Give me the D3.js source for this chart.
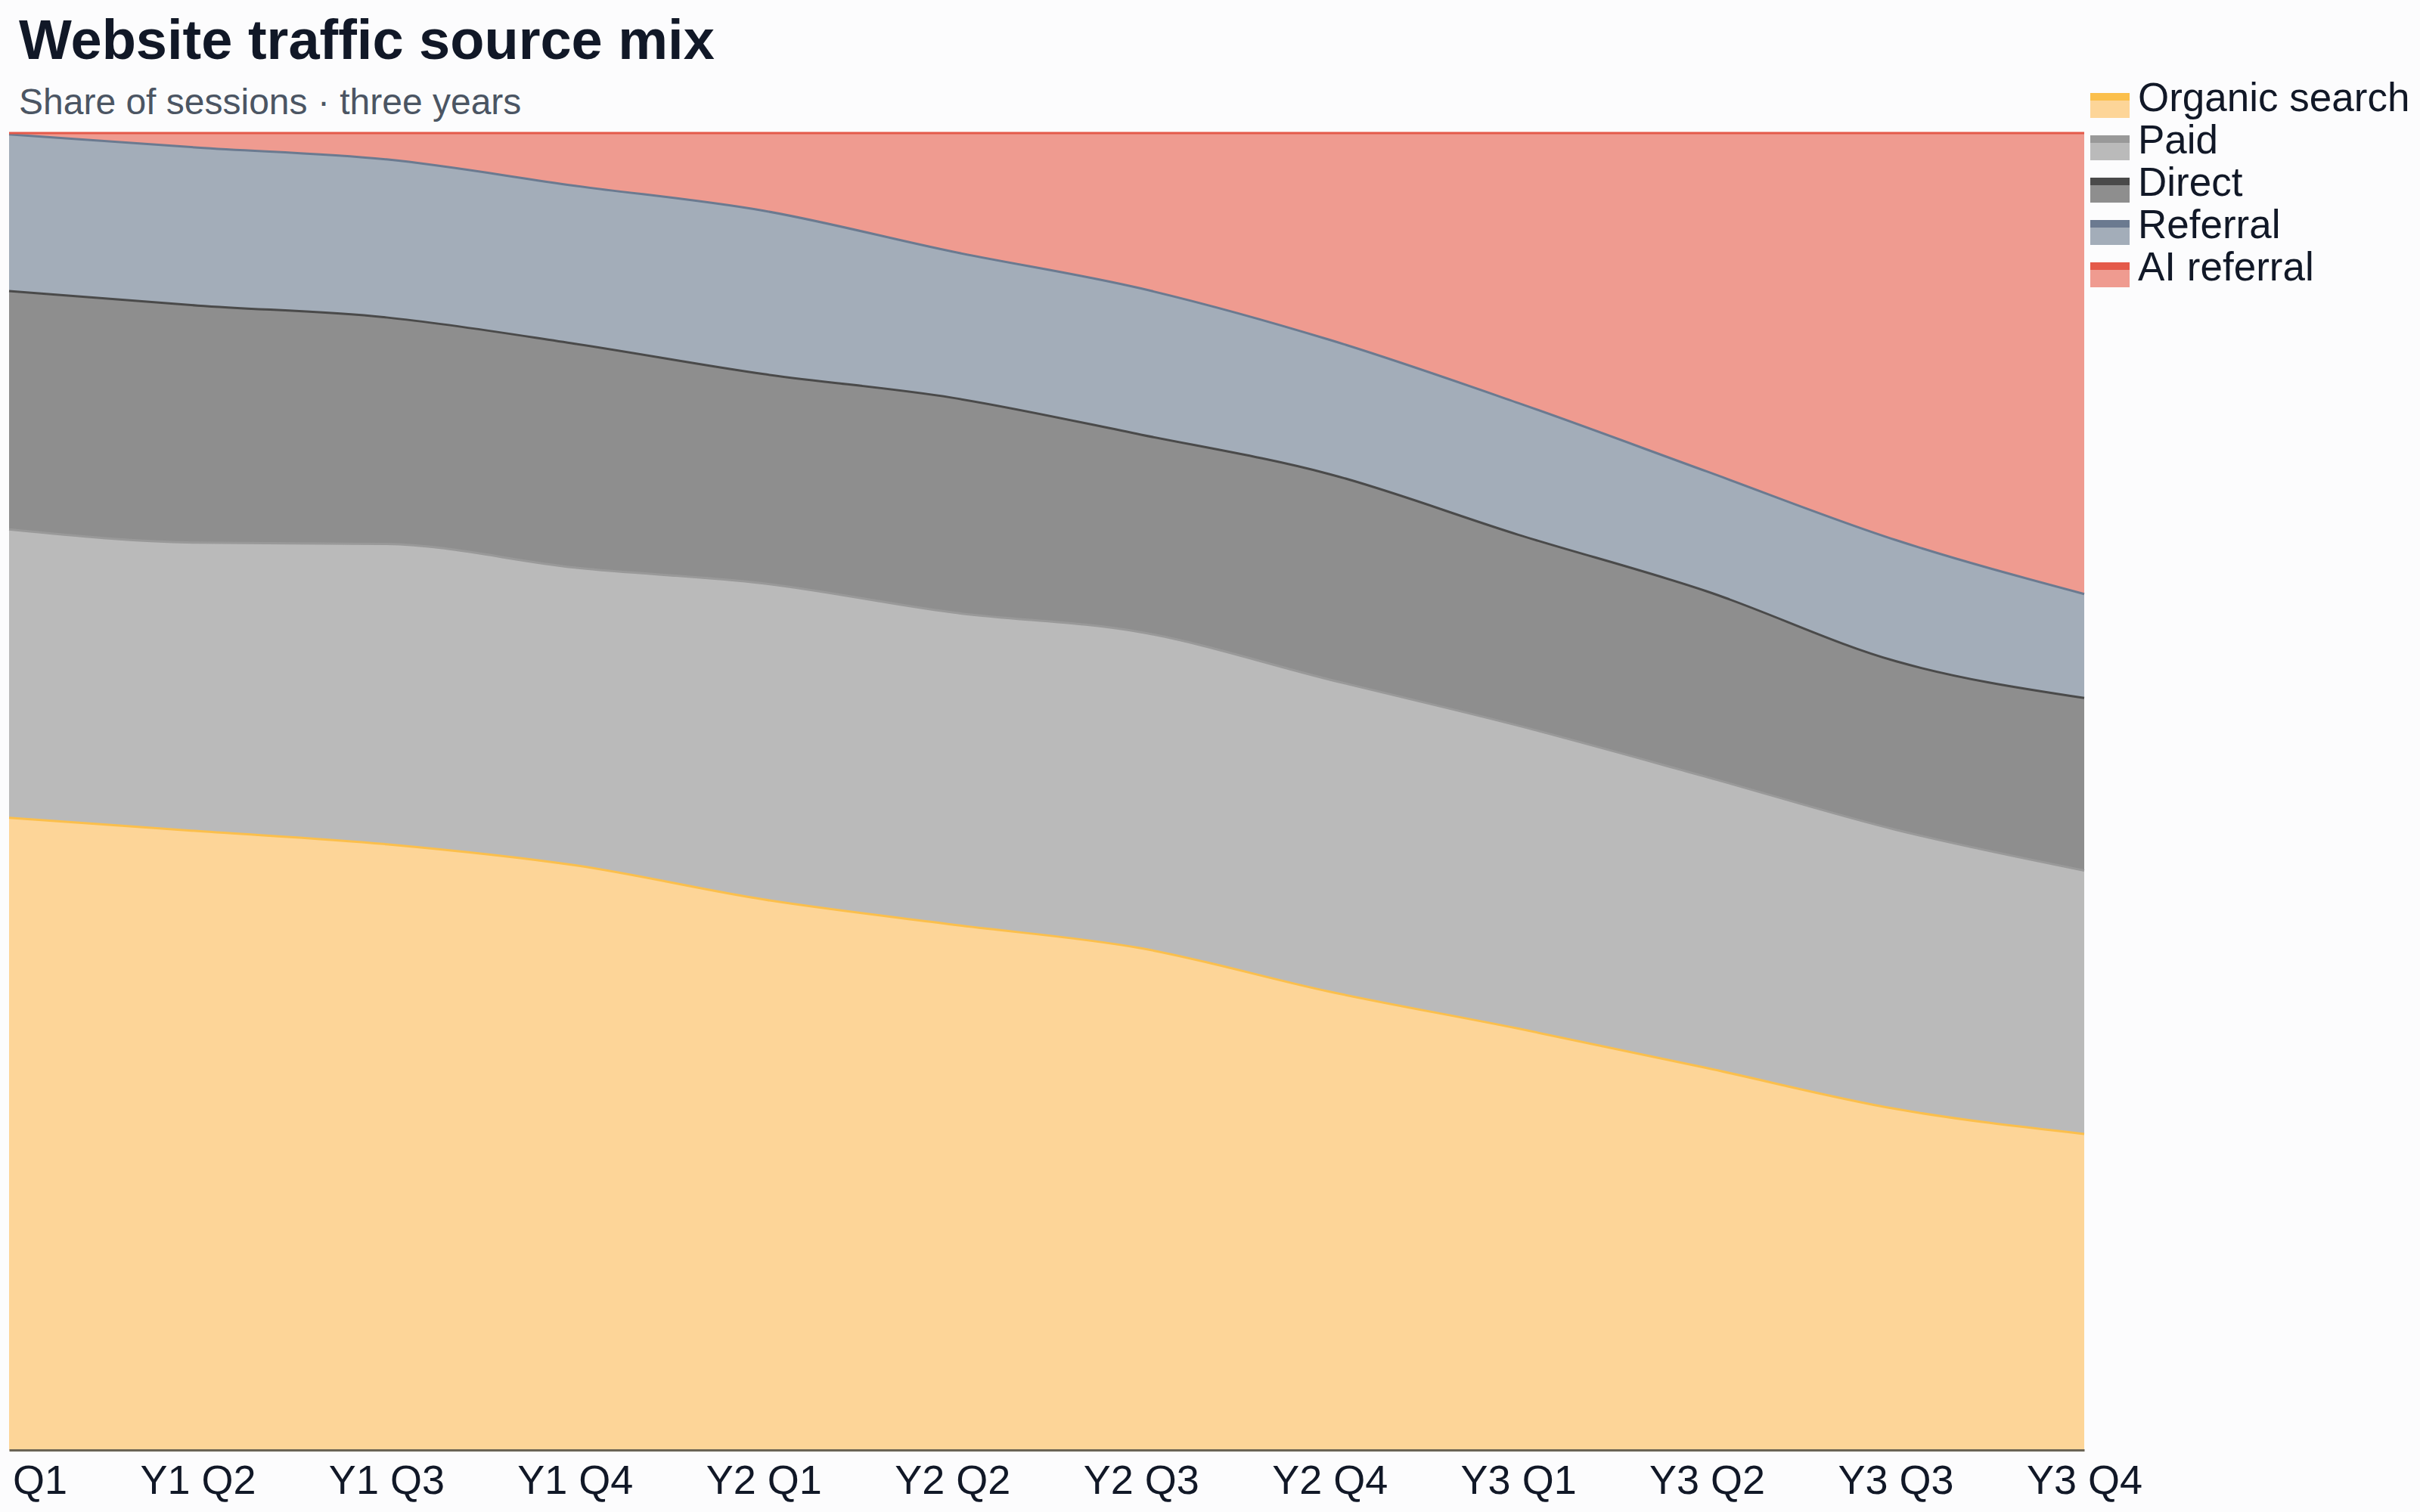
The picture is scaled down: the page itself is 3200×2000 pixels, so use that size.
<!DOCTYPE html>
<html>
<head>
<meta charset="utf-8">
<script src="https://cdn.jsdelivr.net/npm/d3@7"></script>
<style>
  body { margin: 0; background: #fcfcfd; }
  svg { display: block; font-family: "Liberation Sans", Arial, sans-serif; }
</style>
</head>
<body>
<svg id="chart" width="3200" height="2000"></svg>
<script>
// quarters along the x axis
const quarters = ["Y1 Q1", "Y1 Q2", "Y1 Q3", "Y1 Q4", "Y2 Q1", "Y2 Q2",
  "Y2 Q3", "Y2 Q4", "Y3 Q1", "Y3 Q2", "Y3 Q3", "Y3 Q4"];

// share of sessions, percent
const organic  = [48, 47, 46, 44.4, 41.8, 39.9, 38.1, 34.8, 32, 29, 25.9, 24];
const paid     = [21.9, 21.9, 22.8, 22.6, 24, 23.7, 24, 23.7, 23, 22.1, 21.2, 20];
const direct   = [18.1, 18, 17.2, 17, 15.9, 16.3, 15, 15.6, 14.5, 14.1, 12.8, 13.1];
const referral = [11.9, 12, 12, 12, 12.4, 11.1, 11.1, 10.2, 10, 9.1, 9.2, 7.9];
const aiRef    = [0.1, 1.1, 2, 4, 5.9, 9, 11.8, 15.7, 20.5, 25.7, 30.9, 35];

const seriesNames = ["Organic search", "Paid", "Direct", "Referral", "AI referral"];
const seriesValues = [organic, paid, direct, referral, aiRef];

const fills   = ["#fdd598", "#bababa", "#8e8e8e", "#a3adb9", "#ef9b90"];
const strokes = ["#fbbf4c", "#999999", "#4a4a4a", "#6b7a90", "#e45a4a"];

const table = quarters.map((q, i) => {
  const row = { quarter: q };
  seriesNames.forEach((s, j) => { row[s] = seriesValues[j][i]; });
  return row;
});

const plot = { left: 12, right: 2756, top: 176, bottom: 1918 };
const svg = d3.select("#chart");

const x = d3.scalePoint().domain(quarters).range([plot.left, plot.right]);
const y = d3.scaleLinear().domain([0, 100]).range([plot.bottom, plot.top]);

const stacked = d3.stack().keys(seriesNames)(table);

const area = d3.area()
  .curve(d3.curveMonotoneX)
  .x((d) => x(d.data.quarter))
  .y0((d) => y(d[0]))
  .y1((d) => y(d[1]));

const topLine = d3.line()
  .curve(d3.curveMonotoneX)
  .x((d) => x(d.data.quarter))
  .y((d) => y(d[1]));

svg.append("g")
  .selectAll("path")
  .data(stacked)
  .join("path")
  .attr("fill", (d, i) => fills[i])
  .attr("d", area);

svg.append("g")
  .selectAll("path")
  .data(stacked)
  .join("path")
  .attr("fill", "none")
  .attr("stroke", (d, i) => strokes[i])
  .attr("stroke-width", 3)
  .attr("d", topLine);

// x axis
const xAxis = svg.append("g")
  .attr("transform", `translate(0,${plot.bottom})`)
  .call(d3.axisBottom(x).tickSize(0).tickSizeOuter(0).tickPadding(20));
xAxis.select(".domain").attr("stroke", "#6b6455").attr("stroke-width", 3);
xAxis.selectAll("text")
  .attr("fill", "#111827")
  .style("font-size", "54px")
  .style("font-family", "'Liberation Sans', Arial, sans-serif");

// title
svg.append("text")
  .attr("x", 25).attr("y", 78)
  .attr("fill", "#111827")
  .style("font-size", "74px")
  .style("font-weight", "bold")
  .text("Website traffic source mix");

svg.append("text")
  .attr("x", 25).attr("y", 151)
  .attr("fill", "#4b5563")
  .style("font-size", "48px")
  .text("Share of sessions · three years");

// legend
const legend = svg.append("g").attr("transform", "translate(2764,123)");
const item = legend.selectAll("g")
  .data(seriesNames)
  .join("g")
  .attr("transform", (d, i) => `translate(0,${i * 56})`);

item.append("rect")
  .attr("width", 52).attr("height", 33)
  .attr("fill", (d, i) => fills[i]);
item.append("rect")
  .attr("width", 52).attr("height", 10)
  .attr("fill", (d, i) => strokes[i]);
item.append("text")
  .attr("x", 63).attr("y", 24)
  .attr("fill", "#111827")
  .style("font-size", "53px")
  .text((d) => d);
</script>
</body>
</html>
